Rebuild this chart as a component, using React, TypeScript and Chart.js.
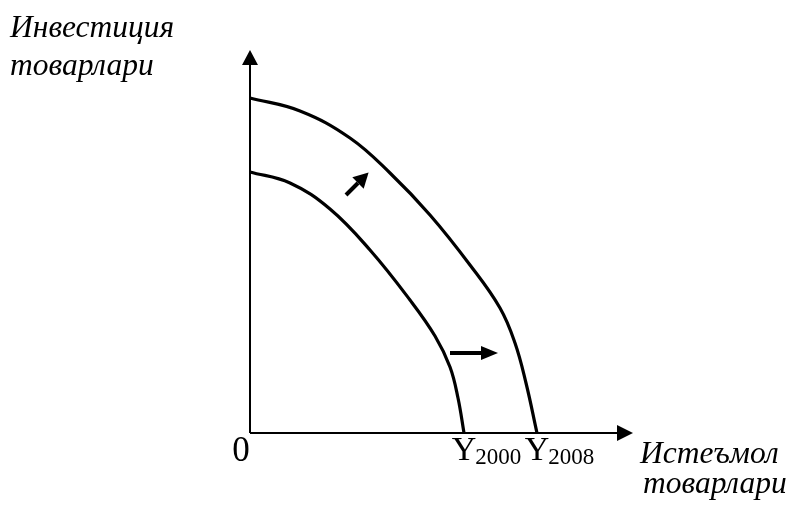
import React, { useEffect, useRef } from "react";
import { Chart, registerables } from "chart.js";

Chart.register(...registerables);

// Production possibility frontier, year 2000 (inner curve)
const innerX = [0, 40, 80, 120, 160, 185, 200, 208, 214];
const innerY = [261, 250, 224, 183, 133, 97, 66, 35, 0];
// Production possibility frontier, year 2008 (outer curve)
const outerX = [0, 50, 100, 140, 180, 220, 250, 265, 276, 287];
const outerY = [335, 322, 295, 260, 218, 168, 125, 90, 50, 0];
// Shift arrows (tail, start of head)
const shiftUpX = [96, 108];
const shiftUpY = [238, 250];
const shiftRightX = [200, 231];
const shiftRightY = [80, 80];
// Axis extent (start of arrow head)
const axisEndY = 368;
const axisEndX = 367;
const axisMax = 383;
// Texts
const originLabel = "0";
const yearLabels = ["2000", "2008"];
const yTitle = ["Инвестиция", "товарлари"];
const xTitle = ["Истеъмол", "товарлари"];

const pts = (xs: number[], ys: number[]) => xs.map((x, i) => ({ x, y: ys[i] }));

const SERIF = '"Liberation Serif", "Times New Roman", serif';

export default function App() {
  const ref = useRef<HTMLCanvasElement | null>(null);

  useEffect(() => {
    if (!ref.current) return;

    const arrowHeads = {
      id: "arrowHeads",
      afterDatasetsDraw(chart: any) {
        const ctx = chart.ctx;
        const xs = chart.scales.x;
        const ys = chart.scales.y;
        chart.data.datasets.forEach((ds: any) => {
          if (!ds.head) return;
          const d = ds.data;
          const a = d[d.length - 2];
          const b = d[d.length - 1];
          const ax = xs.getPixelForValue(a.x);
          const ay = ys.getPixelForValue(a.y);
          const bx = xs.getPixelForValue(b.x);
          const by = ys.getPixelForValue(b.y);
          const ang = Math.atan2(by - ay, bx - ax);
          const L = ds.head[0];
          const W = ds.head[1];
          const tx = bx + L * Math.cos(ang);
          const ty = by + L * Math.sin(ang);
          ctx.save();
          ctx.fillStyle = "#000";
          ctx.beginPath();
          ctx.moveTo(tx, ty);
          ctx.lineTo(bx + W * Math.sin(ang), by - W * Math.cos(ang));
          ctx.lineTo(bx - W * Math.sin(ang), by + W * Math.cos(ang));
          ctx.closePath();
          ctx.fill();
          ctx.restore();
        });
      },
    };

    const texts = {
      id: "texts",
      afterDraw(chart: any) {
        const ctx = chart.ctx;
        const xs = chart.scales.x;
        const ys = chart.scales.y;
        const x0 = xs.getPixelForValue(0);
        const y0 = ys.getPixelForValue(0);
        ctx.save();
        ctx.fillStyle = "#000";
        ctx.textBaseline = "alphabetic";
        // origin
        ctx.font = `35px ${SERIF}`;
        ctx.textAlign = "center";
        ctx.fillText(originLabel, x0 - 9, y0 + 28);
        // year labels under intercepts
        const intercepts = [innerX[innerX.length - 1], outerX[outerX.length - 1]];
        intercepts.forEach((v, i) => {
          const px = xs.getPixelForValue(v);
          ctx.font = `34px ${SERIF}`;
          ctx.textAlign = "center";
          const yw = ctx.measureText("Y").width;
          ctx.fillText("Y", px, y0 + 27);
          ctx.font = `23px ${SERIF}`;
          ctx.textAlign = "left";
          ctx.fillText(yearLabels[i], px + yw / 2 - 1, y0 + 31);
        });
        // axis titles
        ctx.font = `italic 31.5px ${SERIF}`;
        ctx.textAlign = "left";
        ctx.fillText(yTitle[0], 10, 37);
        ctx.fillText(yTitle[1], 10, 75);
        ctx.fillText(xTitle[0], 640, 463);
        ctx.fillText(xTitle[1], 643, 493);
        ctx.restore();
      },
    };

    const line = (data: any[], width: number, extra: any = {}) => ({
      data,
      showLine: true,
      borderColor: "#000",
      backgroundColor: "#000",
      borderWidth: width,
      pointRadius: 0,
      fill: false,
      clip: false,
      tension: 0,
      ...extra,
    });

    const chart = new Chart(ref.current, {
      type: "scatter",
      data: {
        datasets: [
          line([{ x: 0, y: 0 }, { x: 0, y: axisEndY }], 2, { head: [15, 8] }),
          line([{ x: 0, y: 0 }, { x: axisEndX, y: 0 }], 2, { head: [16, 8] }),
          line(pts(innerX, innerY), 3.2, { tension: 0.4 }),
          line(pts(outerX, outerY), 3.2, { tension: 0.4 }),
          line(pts(shiftUpX, shiftUpY), 4, { head: [15, 8] }),
          line(pts(shiftRightX, shiftRightY), 4, { head: [17, 7] }),
        ] as any,
      },
      options: {
        responsive: false,
        animation: false,
        events: [],
        layout: { padding: { left: 250, right: 159, top: 50, bottom: 72 } },
        plugins: { legend: { display: false }, tooltip: { enabled: false } },
        scales: {
          x: { type: "linear", min: 0, max: axisMax, display: false },
          y: { type: "linear", min: 0, max: axisMax, display: false },
        },
      },
      plugins: [arrowHeads, texts],
    });
    return () => chart.destroy();
  }, []);

  return (
    <div style={{ position: "absolute", left: 0, top: 0, width: 792, height: 505, background: "#fff" }}>
      <canvas ref={ref} width={792} height={505} style={{ display: "block" }} />
    </div>
  );
}
